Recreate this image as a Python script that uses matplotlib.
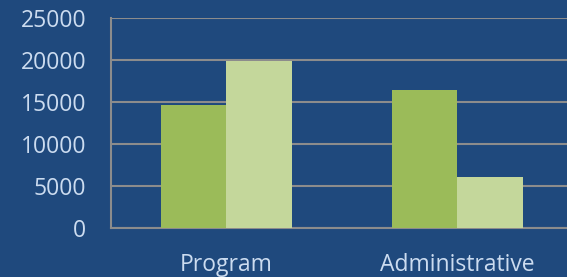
import matplotlib
matplotlib.use("Agg")
import matplotlib.pyplot as plt
import numpy as np

categories = ["Program", "Administrative"]
series_a = [14600, 16400]
series_b = [19900, 6100]
yticks = [0, 5000, 10000, 15000, 20000, 25000]

bg = "#1F497D"
plt.rcParams['font.family'] = ['Open Sans', 'DejaVu Sans']

fig = plt.figure(figsize=(5.67, 2.77), dpi=100, facecolor=bg)
ax = fig.add_axes([111/567, (277-228.3)/277, (573-111)/567, (228.3-17.7)/277])
ax.set_facecolor(bg)

x = np.arange(len(categories))
w = 66/231
ax.bar(x - w/2, series_a, width=w, color="#9BBB59", zorder=3)
ax.bar(x + w/2, series_b, width=w, color="#C4D79B", zorder=3)

ax.set_xlim(-0.5, 1.5)
ax.set_ylim(0, 25000)
ax.set_yticks(yticks)
ax.set_yticklabels([str(v) for v in yticks])
ax.set_xticks(x)
ax.set_xticklabels(categories)
ax.grid(axis='y', color="#8C8C8C", linewidth=1.5, zorder=1)
ax.set_axisbelow(True)
for s in ["top", "right"]:
    ax.spines[s].set_visible(False)
ax.spines["left"].set_color("#8C8C8C")
ax.spines["left"].set_linewidth(1.5)
ax.spines["bottom"].set_color("#8C8C8C")
ax.spines["bottom"].set_linewidth(1.5)
ax.tick_params(axis='y', length=0, pad=18, labelsize=16.5, labelcolor="#CCDCF0")
ax.tick_params(axis='x', length=0, pad=17.5, labelsize=16.5, labelcolor="#CCDCF0")

fig.savefig("out.png", dpi=100, facecolor=bg)
